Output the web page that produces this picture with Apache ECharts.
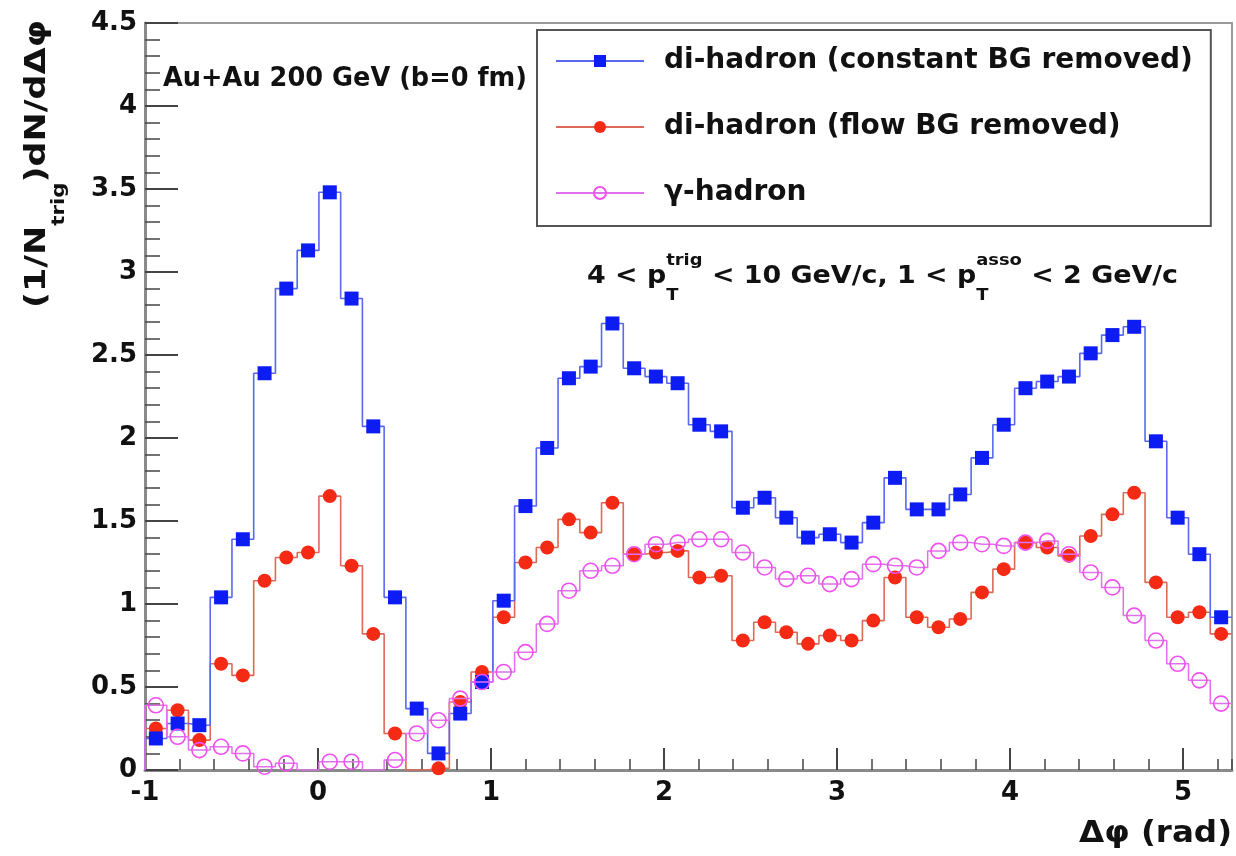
<!DOCTYPE html>
<html><head><meta charset="utf-8">
<script src="https://cdn.jsdelivr.net/npm/echarts@6/dist/echarts.min.js"></script>
<style>html,body{margin:0;padding:0;background:#fff}#c{width:1236px;height:856px}</style>
</head><body><div id="c"></div>
<script>
// ---- data ----
const binCount = 50;          // 50 bins covering 2*pi
const xStart = -1;            // first bin lower edge (rad)
const seriesNames = ['di-hadron (constant BG removed)', 'di-hadron (flow BG removed)', '\u03b3-hadron'];
const diHadronConst = [0.19, 0.28, 0.27, 1.04, 1.39, 2.39, 2.90, 3.13, 3.48, 2.84,
  2.07, 1.04, 0.37, 0.10, 0.34, 0.53, 1.02, 1.59, 1.94, 2.36,
  2.43, 2.69, 2.42, 2.37, 2.33, 2.08, 2.04, 1.58, 1.64, 1.52,
  1.40, 1.42, 1.37, 1.49, 1.76, 1.57, 1.57, 1.66, 1.88, 2.08,
  2.30, 2.34, 2.37, 2.51, 2.62, 2.67, 1.98, 1.52, 1.30, 0.92];
const diHadronFlow = [0.25, 0.36, 0.18, 0.64, 0.57, 1.14, 1.28, 1.31, 1.65, 1.23,
  0.82, 0.22, 0, 0.01, 0.41, 0.59, 0.92, 1.25, 1.34, 1.51,
  1.43, 1.61, 1.30, 1.31, 1.32, 1.16, 1.17, 0.78, 0.89, 0.83,
  0.76, 0.81, 0.78, 0.90, 1.16, 0.92, 0.86, 0.91, 1.07, 1.21,
  1.37, 1.34, 1.29, 1.41, 1.54, 1.67, 1.13, 0.92, 0.95, 0.82];
const gammaHadron = [0.39, 0.20, 0.12, 0.14, 0.10, 0.02, 0.04, 0, 0.05, 0.05,
  0, 0.06, 0.22, 0.30, 0.43, 0.53, 0.59, 0.71, 0.88, 1.08,
  1.20, 1.23, 1.30, 1.36, 1.37, 1.39, 1.39, 1.31, 1.22, 1.15,
  1.17, 1.12, 1.15, 1.24, 1.23, 1.22, 1.32, 1.37, 1.36, 1.35,
  1.37, 1.38, 1.30, 1.19, 1.10, 0.93, 0.78, 0.64, 0.54, 0.40];
const xTickValues = [-1, 0, 1, 2, 3, 4, 5];
const yTickValues = [0, 0.5, 1, 1.5, 2, 2.5, 3, 3.5, 4, 4.5];

// ---- helpers ----
const FONT = '"DejaVu Sans", sans-serif';
const binW = 2 * Math.PI / binCount;
const xEnd = xStart + binCount * binW;

function histData(values) {
  const d = [];
  d.push({ value: [xStart, 0], symbol: 'none' });
  d.push({ value: [xStart, values[0]], symbol: 'none' });
  values.forEach((v, k) => {
    const c = xStart + (k + 0.5) * binW;
    d.push(v === 0 ? { value: [c, v], symbol: 'none' } : { value: [c, v] });
  });
  d.push({ value: [xEnd, values[values.length - 1]], symbol: 'none' });
  return d;
}

const ctx = document.createElement('canvas').getContext('2d');
function tw(t, s) { ctx.font = 'bold ' + s + 'px ' + FONT; return ctx.measureText(t).width; }
function txt(t, s, x, y) {
  return { type: 'text', x: x, y: y, style: { text: t, font: 'bold ' + s + 'px ' + FONT, fill: '#111',
    textAlign: 'left', align: 'left', textVerticalAlign: 'middle', verticalAlign: 'middle' } };
}
function textGroup(frags, x, y, targetW, rotation) {
  const children = [];
  let cx = 0;
  frags.forEach(f => {
    if (f.t !== undefined) {
      children.push(txt(f.t, f.s, cx, f.dy || 0));
      cx += tw(f.t, f.s);
    } else {
      let w = 0;
      if (f.sup) { children.push(txt(f.sup, f.s, cx, f.supDy)); w = Math.max(w, tw(f.sup, f.s)); }
      if (f.sub) { children.push(txt(f.sub, f.s, cx, f.subDy)); w = Math.max(w, tw(f.sub, f.s)); }
      cx += w;
    }
  });
  return { type: 'group', x: x, y: y, rotation: rotation || 0, scaleX: targetW / cx, scaleY: 1, children: children, z: 100 };
}

const chart = echarts.init(document.getElementById('c'), null, { renderer: 'canvas' });

const option = {
  animation: false,
  backgroundColor: '#fff',
  grid: { left: 145, right: 4, top: 23, bottom: 86, show: true, borderColor: '#9a9a9a', borderWidth: 2,
    backgroundColor: 'transparent', containLabel: false, outerBoundsMode: 'none' },
  legend: {
    show: true, orient: 'vertical', left: 537, top: 30,
    data: seriesNames, selectedMode: false,
    itemWidth: 88, itemHeight: 15, itemGap: 38,
    padding: [17, 18, 19, 18],
    borderColor: '#555', borderWidth: 2, backgroundColor: '#fff',
    textStyle: { fontFamily: FONT, fontWeight: 'bold', fontSize: 28, color: '#111', padding: [0, 0, 0, 15] }
  },
  xAxis: [{
    type: 'value', min: xStart, max: xEnd, interval: 1,
    axisLine: { show: true, onZero: false, lineStyle: { color: '#8a8a8a', width: 3 } },
    axisTick: { show: true, inside: true, length: 22, lineStyle: { color: '#444', width: 2 }, customValues: xTickValues },
    axisLabel: { show: true, customValues: xTickValues, fontFamily: FONT, fontWeight: 'bold', fontSize: 26, color: '#111', margin: 10 },
    splitLine: { show: false }
  }, {
    type: 'value', min: xStart, max: xEnd, interval: 0.2, position: 'bottom',
    axisLine: { show: false, onZero: false }, axisLabel: { show: false }, splitLine: { show: false },
    axisTick: { show: true, inside: true, length: 11, lineStyle: { color: '#444', width: 1.5 } }
  }],
  yAxis: {
    type: 'value', min: 0, max: 4.5, interval: 0.5, position: 'left',
    axisLine: { show: true, onZero: false, lineStyle: { color: '#8a8a8a', width: 3 } },
    axisTick: { show: true, inside: true, length: 33, lineStyle: { color: '#444', width: 2 }, customValues: yTickValues },
    minorTick: { show: true, splitNumber: 5, length: 15, lineStyle: { color: '#444', width: 1.5 } },
    axisLabel: { show: true, customValues: yTickValues, fontFamily: FONT, fontWeight: 'bold', fontSize: 26, color: '#111', margin: 8 },
    splitLine: { show: false }, minorSplitLine: { show: false }
  },
  series: [
    {
      name: seriesNames[1], type: 'line', step: 'middle', data: histData(diHadronFlow),
      symbol: 'circle', symbolSize: 14, z: 3,
      itemStyle: { color: '#f52a14' }, lineStyle: { color: '#dc6a58', width: 1.6 }
    },
    {
      name: seriesNames[0], type: 'line', step: 'middle', data: histData(diHadronConst),
      symbol: 'rect', symbolSize: 14, z: 4,
      itemStyle: { color: '#0c1cf2' }, lineStyle: { color: '#5a68f0', width: 1.6 }
    },
    {
      name: seriesNames[2], type: 'line', step: 'middle', data: histData(gammaHadron),
      symbol: 'circle', symbolSize: 15, z: 5,
      itemStyle: { color: 'rgba(255,255,255,0)', borderColor: '#f050f0', borderWidth: 1.6 },
      lineStyle: { color: '#e070ec', width: 1.5 }
    }
  ],
  graphic: [
    textGroup([{ t: 'Au+Au 200 GeV (b=0 fm)', s: 26 }], 163, 79, 364),
    textGroup([
      { t: '4 < p', s: 24 },
      { sup: 'trig', sub: 'T', s: 16, supDy: -16, subDy: 19 },
      { t: ' < 10 GeV/c, 1 < p', s: 24 },
      { sup: 'asso', sub: 'T', s: 16, supDy: -16, subDy: 19 },
      { t: ' < 2 GeV/c', s: 24 }
    ], 587, 277, 591),
    textGroup([{ t: '\u0394\u03c6 (rad)', s: 30 }], 1079, 834, 153),
    textGroup([
      { t: '(1/N', s: 28 },
      { sub: 'trig', s: 17, subDy: 22 },
      { t: ')dN/d\u0394\u03c6', s: 28 }
    ], 38, 308, 288, Math.PI / 2)
  ]
};
chart.setOption(option);
</script>
</body></html>
